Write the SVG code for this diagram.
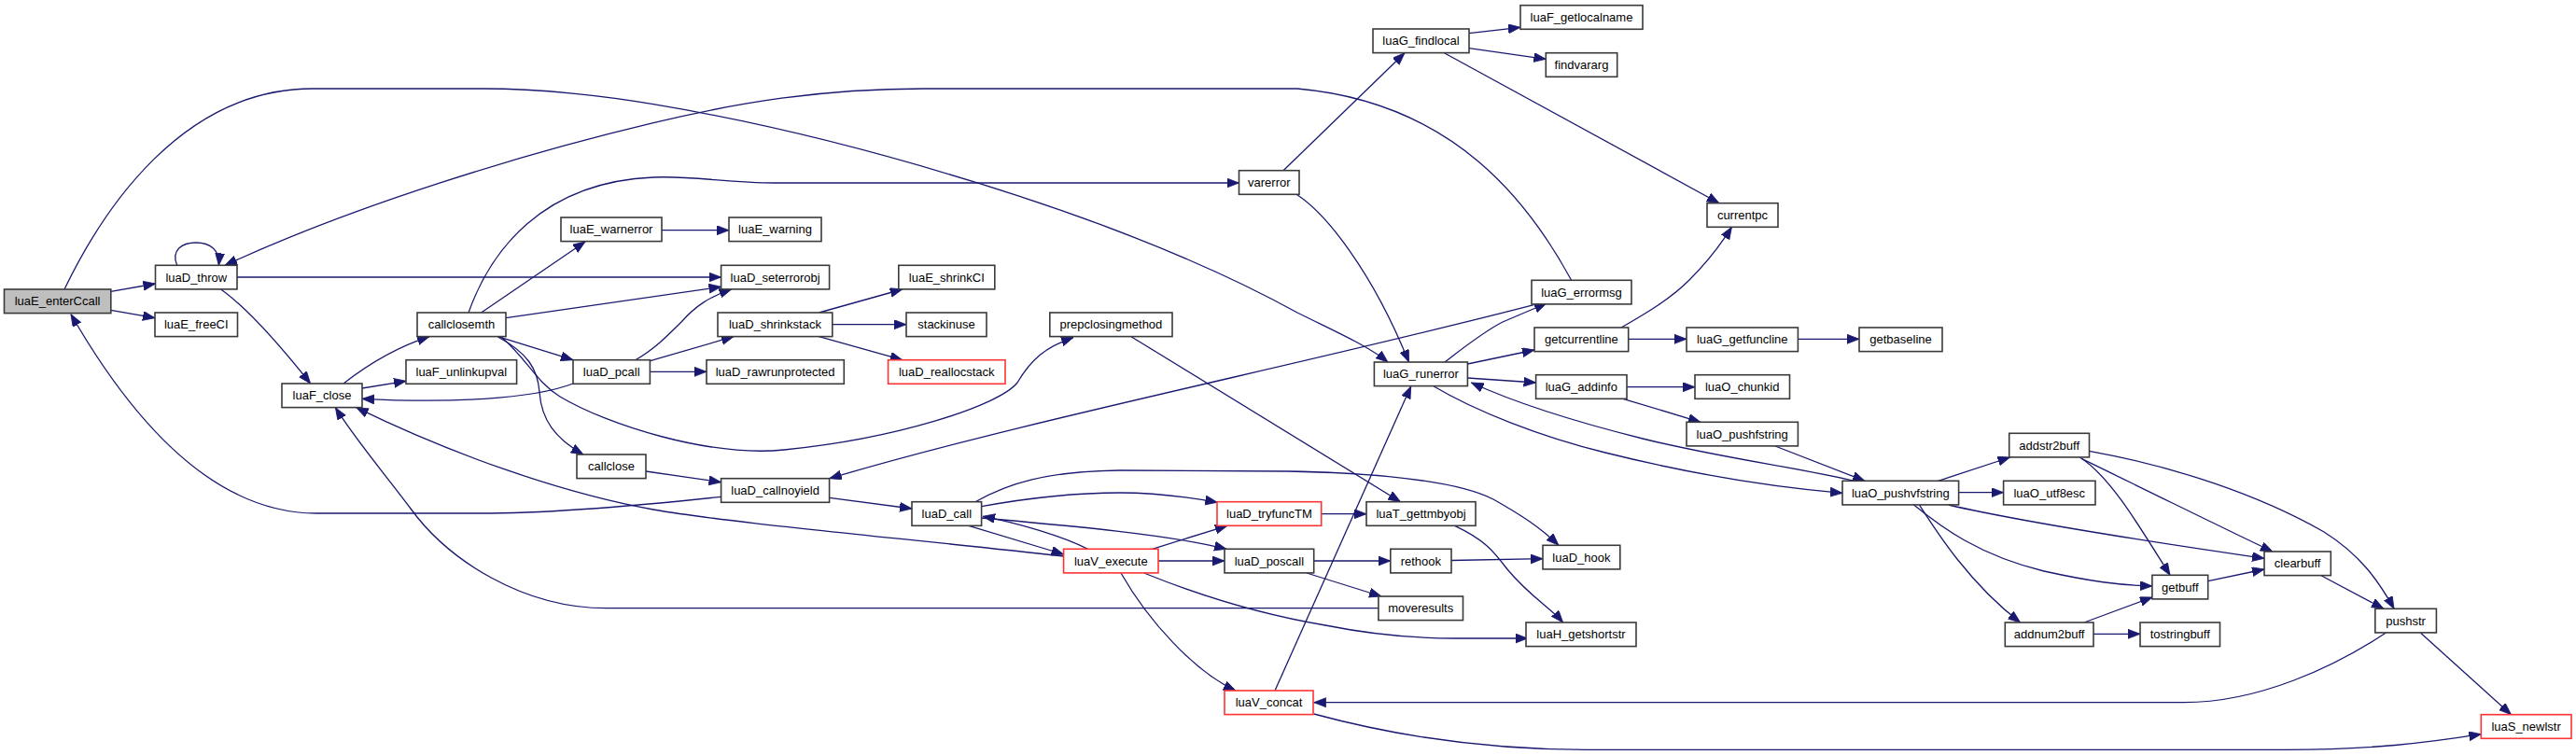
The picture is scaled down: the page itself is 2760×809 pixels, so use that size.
<svg xmlns="http://www.w3.org/2000/svg" width="2760" height="809" viewBox="0 0 2760 809">
<style>
.n rect{fill:#fff;stroke:#3a3a3a;stroke-width:1.6}
.r rect{stroke:#ff3333}
.g rect{fill:#bfbfbf}
.n text{font-family:"Liberation Sans",Arial,sans-serif;font-size:13px;text-anchor:middle;fill:#000}
#edges path{fill:none;stroke:#191970;stroke-width:1.3;marker-end:url(#a)}
</style>
<defs>
<marker id="a" markerUnits="userSpaceOnUse" markerWidth="14" markerHeight="11" refX="13" refY="5" orient="auto">
<path d="M0,0 L13,5 L0,10 z" fill="#191970" stroke="#191970" stroke-width="0.8"/>
</marker>
</defs>
<rect width="2760" height="809" fill="#fff"/>
<g id="edges">
<path d="M118.8,312.3 L166.5,304"/>
<path d="M118.8,332.3 L166,340.7"/>
<path d="M189.7,284.3 C183,268 195,260 210,260 C225,260 236,268 234.4,284.3"/>
<path d="M236.6,310 C265,330 300,370 332.6,411"/>
<path d="M254,297 L772.6,297"/>
<path d="M69,310 C110,225 195,95 335,95 L518,95 C580,95 650,103 700,111.7 C900,145 1200,230 1390,335 C1430,355 1465,370 1487,388"/>
<path d="M1683.6,300.3 C1640,220 1560,110 1390,95 L990,95 C880,95 790,110 700,131.7 C560,165 380,220 241,284.3"/>
<path d="M502,335 C525,270 580,195 700,190 C740,188 780,196 830,196 L1327.5,196"/>
<path d="M515.6,335 L627,259"/>
<path d="M709,246.7 L781,246.7"/>
<path d="M542,340.7 L772.6,307.3"/>
<path d="M533.5,360.7 L614,385.7"/>
<path d="M533.5,361 C565,378 576,395 578,420 C580,450 595,470 625,487"/>
<path d="M537,361 C565,385 575,410 600,425 C650,455 760,490 840,482 C960,470 1070,435 1090,410 C1105,385 1120,372 1150,361.7"/>
<path d="M368,411 C395,390 425,372 460,360.7"/>
<path d="M388,416 L435,408.3"/>
<path d="M614,411 C570,428 480,432 388,427.3"/>
<path d="M680.8,385.7 C700,375 715,360 730,345 C745,328 760,318 783.7,310"/>
<path d="M696.7,386.7 L786,360.7"/>
<path d="M696.7,398.3 L757,398.3"/>
<path d="M877.5,335 L966.8,310"/>
<path d="M891.8,347.7 L971,347.7"/>
<path d="M877.5,360.7 L966.8,385.7"/>
<path d="M1212,360.7 L1500.5,537.7"/>
<path d="M692,505 L772.6,516.7"/>
<path d="M772.6,532.3 C720,538 600,550 513,550 L339,550 C260,550 170,500 76,336.7"/>
<path d="M888.7,533.3 L977,545"/>
<path d="M1038,563.3 L1139.6,594"/>
<path d="M1165.5,588.3 C1140,575 1090,560 1053,553.3"/>
<path d="M1051.6,555 C1130,562 1250,572 1314,588.3"/>
<path d="M1051.6,542.7 C1110,532 1160,528 1200,528 C1240,528 1275,533 1304.3,538.3"/>
<path d="M1045,537.7 C1080,518 1120,505 1200,504 L1380,505 C1480,507 1560,515 1600,535 C1630,552 1650,565 1670,584.3"/>
<path d="M1234.6,588.3 L1315,563.3"/>
<path d="M1241,601 L1312,601"/>
<path d="M1201,614 C1230,665 1280,720 1324,740"/>
<path d="M1225.7,614 C1290,640 1360,660 1420,670 C1470,680 1520,684 1560,684 L1636.7,684"/>
<path d="M1139.6,596 C950,575 780,560 700,546 C600,528 480,485 381.7,436.7"/>
<path d="M1415.7,550.7 L1464,550.7"/>
<path d="M1558.6,563.3 C1590,578 1600,590 1615,610 C1640,640 1660,650 1674.6,667"/>
<path d="M1407.7,601 L1489.8,601"/>
<path d="M1400,614 L1480,639"/>
<path d="M1555,600.5 L1653,598.7"/>
<path d="M1476.9,651.7 L650,651.7 C560,651.7 480,600 440,545 C410,505 380,470 359.4,436.7"/>
<path d="M1366,740 L1511.7,414"/>
<path d="M1407.7,765 C1500,790 1600,803.3 1700,803.3 L2450,803.3 C2540,803.3 2600,796 2658.3,786.7"/>
<path d="M2556,678.3 C2500,715 2420,752.7 2340,752.7 L1407.7,752.7"/>
<path d="M2593.6,678.3 L2690.5,765.7"/>
<path d="M1572.4,390 L1644,375"/>
<path d="M1572.4,405 L1645.6,410"/>
<path d="M1536.3,414 C1580,440 1650,468 1720,485 C1820,510 1900,522 1974,528.3"/>
<path d="M1987,515.3 C1920,500 1840,490 1760,470 C1680,450 1620,430 1576.4,410"/>
<path d="M1743,414.7 L1816,414.7"/>
<path d="M1739,427.3 L1822,452.3"/>
<path d="M1902,478 L1998,515.3"/>
<path d="M1737,351 C1765,335 1790,320 1810,300 C1830,280 1845,260 1855.4,243.3"/>
<path d="M1744.7,363.3 L1807,363.3"/>
<path d="M1926.4,363.3 L1992,363.3"/>
<path d="M1574,35.7 L1629,29.3"/>
<path d="M1574,51.7 L1656.3,63.3"/>
<path d="M1547.4,56.7 L1842,217.7"/>
<path d="M1643.4,326.7 C1400,390 1100,450 888.7,512.7"/>
<path d="M1547.4,388.3 C1565,375 1590,355 1610,345 L1657,325"/>
<path d="M1375,182.7 L1505,56.7"/>
<path d="M1389,208.3 C1420,228 1470,290 1509.5,388"/>
<path d="M2076.6,515.3 L2153.6,490"/>
<path d="M2098.6,527.7 L2146.6,527.7"/>
<path d="M2087.6,541 C2170,560 2300,580 2426,598.3"/>
<path d="M2049.6,540.3 C2080,565 2120,595 2190,612 C2240,623 2270,627 2306,628"/>
<path d="M2056,540.3 C2075,570 2110,625 2164.6,667"/>
<path d="M2228.4,490 C2260,510 2290,560 2325,616.3"/>
<path d="M2230.6,491.7 C2320,535 2390,570 2435,591"/>
<path d="M2238.5,483.3 C2330,500 2420,530 2490,570 C2530,595 2550,625 2565,652.3"/>
<path d="M2365.7,622.7 L2426,610"/>
<path d="M2487,616.7 L2554,652.3"/>
<path d="M2233,667 L2306,640"/>
<path d="M2243,679.3 L2293,679.3"/>
</g>
<g id="luaE_enterCcall" class="n g"><rect x="4.5" y="310" width="114.3" height="25.6"/><text x="61.6" y="327.4">luaE_enterCcall</text></g>
<g id="luaD_throw" class="n"><rect x="166.5" y="284.3" width="87.5" height="25.6"/><text x="210.3" y="301.7">luaD_throw</text></g>
<g id="luaE_freeCI" class="n"><rect x="166" y="335" width="88.5" height="25.6"/><text x="210.3" y="352.4">luaE_freeCI</text></g>
<g id="luaF_close" class="n"><rect x="302" y="411" width="86" height="25.6"/><text x="345" y="428.4">luaF_close</text></g>
<g id="callclosemth" class="n"><rect x="447" y="335" width="95" height="25.6"/><text x="494.5" y="352.4">callclosemth</text></g>
<g id="luaF_unlinkupval" class="n"><rect x="435" y="385.7" width="118.6" height="25.6"/><text x="494.3" y="403.1">luaF_unlinkupval</text></g>
<g id="luaE_warnerror" class="n"><rect x="601" y="233" width="108" height="25.6"/><text x="655" y="250.4">luaE_warnerror</text></g>
<g id="luaD_pcall" class="n"><rect x="614" y="385.7" width="82.4" height="25.6"/><text x="655.2" y="403.1">luaD_pcall</text></g>
<g id="callclose" class="n"><rect x="618" y="487" width="74" height="25.6"/><text x="655" y="504.4">callclose</text></g>
<g id="luaE_warning" class="n"><rect x="781" y="233" width="99" height="25.6"/><text x="830.5" y="250.4">luaE_warning</text></g>
<g id="luaD_seterrorobj" class="n"><rect x="772.6" y="284.3" width="116" height="25.6"/><text x="830.6" y="301.7">luaD_seterrorobj</text></g>
<g id="luaD_shrinkstack" class="n"><rect x="769" y="335" width="122.8" height="25.6"/><text x="830.4" y="352.4">luaD_shrinkstack</text></g>
<g id="luaD_rawrunprotected" class="n"><rect x="757" y="385.7" width="147.3" height="25.6"/><text x="830.6" y="403.1">luaD_rawrunprotected</text></g>
<g id="luaD_callnoyield" class="n"><rect x="772.6" y="512.7" width="116" height="25.6"/><text x="830.6" y="530.1">luaD_callnoyield</text></g>
<g id="luaE_shrinkCI" class="n"><rect x="962.8" y="284.3" width="103" height="25.6"/><text x="1014.3" y="301.7">luaE_shrinkCI</text></g>
<g id="stackinuse" class="n"><rect x="971" y="335" width="86" height="25.6"/><text x="1014" y="352.4">stackinuse</text></g>
<g id="luaD_reallocstack" class="n r"><rect x="951.6" y="385.7" width="125.4" height="25.6"/><text x="1014.3" y="403.1">luaD_reallocstack</text></g>
<g id="luaD_call" class="n"><rect x="977" y="537.7" width="74.6" height="25.6"/><text x="1014.3" y="555.1">luaD_call</text></g>
<g id="prepclosingmethod" class="n"><rect x="1124.8" y="335" width="131.2" height="25.6"/><text x="1190.4" y="352.4">prepclosingmethod</text></g>
<g id="luaV_execute" class="n r"><rect x="1139.6" y="588.3" width="101.4" height="25.6"/><text x="1190.3" y="605.7">luaV_execute</text></g>
<g id="varerror" class="n"><rect x="1327.5" y="182.7" width="64.5" height="25.6"/><text x="1359.8" y="200.1">varerror</text></g>
<g id="luaD_tryfuncTM" class="n r"><rect x="1304" y="537.7" width="111.7" height="25.6"/><text x="1359.9" y="555.1">luaD_tryfuncTM</text></g>
<g id="luaD_poscall" class="n"><rect x="1312" y="588.3" width="95.7" height="25.6"/><text x="1359.9" y="605.7">luaD_poscall</text></g>
<g id="luaV_concat" class="n r"><rect x="1312" y="740" width="95" height="25.6"/><text x="1359.5" y="757.4">luaV_concat</text></g>
<g id="luaG_findlocal" class="n"><rect x="1471" y="31" width="103" height="25.6"/><text x="1522.5" y="48.4">luaG_findlocal</text></g>
<g id="luaG_runerror" class="n"><rect x="1472.4" y="388" width="100" height="25.6"/><text x="1522.4" y="405.4">luaG_runerror</text></g>
<g id="luaT_gettmbyobj" class="n"><rect x="1464" y="537.7" width="117" height="25.6"/><text x="1522.5" y="555.1">luaT_gettmbyobj</text></g>
<g id="rethook" class="n"><rect x="1489.8" y="588.3" width="65.2" height="25.6"/><text x="1522.4" y="605.7">rethook</text></g>
<g id="moveresults" class="n"><rect x="1476.9" y="639" width="90.6" height="25.6"/><text x="1522.2" y="656.4">moveresults</text></g>
<g id="luaF_getlocalname" class="n"><rect x="1629" y="5.7" width="131" height="25.6"/><text x="1694.5" y="23.1">luaF_getlocalname</text></g>
<g id="findvararg" class="n"><rect x="1656.3" y="56.7" width="76.4" height="25.6"/><text x="1694.5" y="74.1">findvararg</text></g>
<g id="luaG_errormsg" class="n"><rect x="1641" y="300.3" width="107" height="25.6"/><text x="1694.5" y="317.7">luaG_errormsg</text></g>
<g id="getcurrentline" class="n"><rect x="1644" y="351" width="100.7" height="25.6"/><text x="1694.4" y="368.4">getcurrentline</text></g>
<g id="luaG_addinfo" class="n"><rect x="1645.6" y="401.7" width="97.4" height="25.6"/><text x="1694.3" y="419.1">luaG_addinfo</text></g>
<g id="luaD_hook" class="n"><rect x="1653" y="584.3" width="82.8" height="25.6"/><text x="1694.4" y="601.7">luaD_hook</text></g>
<g id="luaH_getshortstr" class="n"><rect x="1635" y="667" width="118" height="25.6"/><text x="1694" y="684.4">luaH_getshortstr</text></g>
<g id="currentpc" class="n"><rect x="1829" y="217.7" width="76" height="25.6"/><text x="1867" y="235.1">currentpc</text></g>
<g id="luaG_getfuncline" class="n"><rect x="1807" y="351" width="119.4" height="25.6"/><text x="1866.7" y="368.4">luaG_getfuncline</text></g>
<g id="luaO_chunkid" class="n"><rect x="1816" y="401.7" width="101.5" height="25.6"/><text x="1866.7" y="419.1">luaO_chunkid</text></g>
<g id="luaO_pushfstring" class="n"><rect x="1807" y="452.3" width="119.4" height="25.6"/><text x="1866.7" y="469.7">luaO_pushfstring</text></g>
<g id="luaO_pushvfstring" class="n"><rect x="1974" y="515.3" width="124.6" height="25.6"/><text x="2036.3" y="532.7">luaO_pushvfstring</text></g>
<g id="getbaseline" class="n"><rect x="1992" y="351" width="89" height="25.6"/><text x="2036.5" y="368.4">getbaseline</text></g>
<g id="addstr2buff" class="n"><rect x="2152.7" y="464.3" width="85.8" height="25.6"/><text x="2195.6" y="481.7">addstr2buff</text></g>
<g id="luaO_utf8esc" class="n"><rect x="2146.6" y="515.3" width="98.4" height="25.6"/><text x="2195.8" y="532.7">luaO_utf8esc</text></g>
<g id="addnum2buff" class="n"><rect x="2148.3" y="667" width="94.7" height="25.6"/><text x="2195.6" y="684.4">addnum2buff</text></g>
<g id="getbuff" class="n"><rect x="2305.9" y="616.3" width="59.8" height="25.6"/><text x="2335.8" y="633.7">getbuff</text></g>
<g id="tostringbuff" class="n"><rect x="2293" y="667" width="85.5" height="25.6"/><text x="2335.8" y="684.4">tostringbuff</text></g>
<g id="clearbuff" class="n"><rect x="2426" y="591" width="71.3" height="25.6"/><text x="2461.6" y="608.4">clearbuff</text></g>
<g id="pushstr" class="n"><rect x="2544.8" y="652.3" width="65.6" height="25.6"/><text x="2577.6" y="669.7">pushstr</text></g>
<g id="luaS_newlstr" class="n r"><rect x="2658.3" y="765.7" width="96.7" height="25.6"/><text x="2706.6" y="783.1">luaS_newlstr</text></g>
</svg>
